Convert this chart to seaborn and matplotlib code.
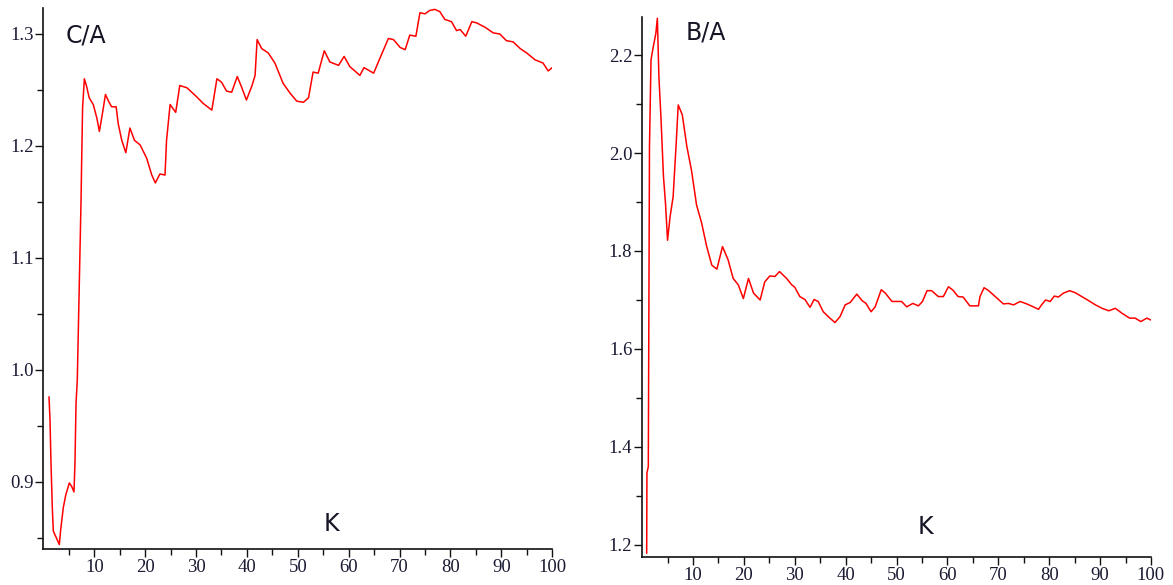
import matplotlib
matplotlib.use("Agg")
import matplotlib.pyplot as plt
from matplotlib.ticker import FixedLocator, FormatStrFormatter
import pandas as pd
import seaborn as sns

# C/A ratio against K
k_ca = [1.10, 1.30, 1.49, 1.75, 1.95, 3.13, 3.39, 3.91, 4.38, 5.09,
        5.55, 6.01, 6.21, 6.41, 6.66, 7.40, 7.50, 7.70, 8.05, 8.5,
        9.0, 9.8, 10.5, 11.0, 11.6, 12.2, 12.8, 13.4, 14.3, 14.7,
        15.4, 16.2, 17.0, 17.9, 19.0, 20.3, 21.3, 22.0, 22.9, 23.9,
        24.2, 24.9, 26.0, 26.8, 28.2, 30.1, 31.4, 33.1, 34.1, 35.0,
        36.0, 37.0, 38.1, 39.0, 39.9, 41.0, 41.6, 42.0, 42.9, 44.2,
        45.5, 47.1, 48.5, 49.8, 51.1, 52.1, 53.0, 54.0, 55.2, 56.3,
        58.0, 59.1, 60.2, 62.2, 63.0, 64.9, 66.1, 67.8, 68.8, 70.1,
        71.1, 72.0, 73.2, 74.0, 75.0, 75.9, 76.9, 77.9, 78.9, 80.2,
        81.2, 81.9, 83.0, 84.2, 85.1, 86.8, 88.4, 89.7, 91.0, 92.3,
        93.7, 95.0, 96.6, 98.2, 99.2, 100.0]
ca = [0.976, 0.955, 0.917, 0.877, 0.856, 0.844, 0.857, 0.877, 0.888, 0.899,
      0.896, 0.891, 0.918, 0.970, 0.991, 1.152, 1.181, 1.234, 1.260, 1.253,
      1.243, 1.237, 1.225, 1.213, 1.229, 1.246, 1.240, 1.235, 1.235, 1.220,
      1.205, 1.194, 1.216, 1.205, 1.201, 1.189, 1.174, 1.167, 1.175, 1.174,
      1.205, 1.237, 1.230, 1.254, 1.252, 1.244, 1.238, 1.232, 1.260, 1.257,
      1.249, 1.248, 1.262, 1.252, 1.241, 1.254, 1.263, 1.295, 1.287, 1.283,
      1.274, 1.256, 1.247, 1.240, 1.239, 1.243, 1.266, 1.265, 1.285, 1.275,
      1.272, 1.280, 1.271, 1.263, 1.270, 1.265, 1.278, 1.296, 1.295, 1.288,
      1.286, 1.299, 1.298, 1.319, 1.318, 1.321, 1.322, 1.320, 1.313, 1.311,
      1.303, 1.304, 1.298, 1.311, 1.310, 1.306, 1.301, 1.300, 1.294, 1.293,
      1.287, 1.283, 1.277, 1.274, 1.267, 1.270]

# B/A ratio against K
k_ba = [0.90, 0.95, 1.22, 1.45, 1.75, 2.2, 2.7, 3.0, 3.3, 3.7,
        4.2, 4.6, 5.0, 5.5, 6.1, 6.7, 7.1, 7.9, 8.8, 9.7,
        10.7, 11.7, 12.7, 13.7, 14.7, 15.8, 16.9, 17.9, 18.9, 19.9,
        20.9, 21.9, 23.2, 24.1, 25.1, 26.1, 27.0, 28.4, 29.4, 30.0,
        31.0, 32.0, 33.0, 33.8, 34.6, 35.6, 36.9, 37.9, 38.9, 39.9,
        40.9, 42.2, 43.2, 44.0, 45.0, 45.8, 47.0, 47.8, 49.1, 51.0,
        52.0, 53.2, 54.3, 55.1, 56.0, 56.9, 58.2, 59.2, 60.2, 61.1,
        62.1, 63.1, 64.4, 66.1, 66.4, 67.2, 68.0, 69.4, 71.0, 72.0,
        73.0, 74.3, 75.6, 76.9, 77.9, 78.5, 79.3, 80.2, 81.0, 81.8,
        82.8, 84.0, 85.1, 86.4, 87.7, 89.1, 90.4, 91.7, 93.0, 94.3,
        95.8, 96.9, 98.0, 99.2, 100.0]
ba = [1.183, 1.347, 1.360, 2.013, 2.190, 2.217, 2.244, 2.275, 2.156, 2.074,
      1.952, 1.897, 1.822, 1.870, 1.911, 2.020, 2.098, 2.078, 2.013, 1.965,
      1.894, 1.857, 1.809, 1.771, 1.763, 1.809, 1.782, 1.744, 1.731, 1.703,
      1.744, 1.714, 1.700, 1.737, 1.749, 1.748, 1.758, 1.744, 1.731, 1.726,
      1.707, 1.701, 1.685, 1.701, 1.697, 1.676, 1.663, 1.654, 1.666, 1.690,
      1.695, 1.712, 1.699, 1.693, 1.676, 1.686, 1.721, 1.714, 1.697, 1.697,
      1.686, 1.693, 1.688, 1.697, 1.719, 1.719, 1.707, 1.707, 1.727, 1.720,
      1.707, 1.706, 1.688, 1.688, 1.707, 1.725, 1.720, 1.707, 1.692, 1.693,
      1.690, 1.697, 1.692, 1.686, 1.681, 1.690, 1.700, 1.697, 1.708, 1.706,
      1.714, 1.719, 1.715, 1.707, 1.699, 1.690, 1.683, 1.678, 1.683, 1.673,
      1.663, 1.663, 1.656, 1.663, 1.659]

x_major = [10, 20, 30, 40, 50, 60, 70, 80, 90, 100]
x_minor = [5, 15, 25, 35, 45, 55, 65, 75, 85, 95]

sns.set_style("ticks")
plt.rcParams["font.family"] = ["DejaVu Sans"]

fig = plt.figure(figsize=(11.73, 5.85), dpi=100)
ax1 = fig.add_axes([0.0370, 0.0615, 0.4338, 0.9244])
ax2 = fig.add_axes([0.5474, 0.0479, 0.4338, 0.9234])

df1 = pd.DataFrame({"K": k_ca, "ratio": ca})
df2 = pd.DataFrame({"K": k_ba, "ratio": ba})

line_kw = dict(color="#ff0000", linewidth=1.1, sort=False, estimator=None)
sns.lineplot(data=df1, x="K", y="ratio", ax=ax1, **line_kw)
sns.lineplot(data=df2, x="K", y="ratio", ax=ax2, **line_kw)

ax1.set_xlim(0, 100)
ax1.set_ylim(0.840, 1.323)
ax2.set_xlim(0, 100)
ax2.set_ylim(1.1755, 2.278)

ax1.yaxis.set_major_locator(FixedLocator([0.9, 1.0, 1.1, 1.2, 1.3]))
ax1.yaxis.set_minor_locator(FixedLocator([0.85, 0.95, 1.05, 1.15, 1.25]))
ax2.yaxis.set_major_locator(FixedLocator([1.2, 1.4, 1.6, 1.8, 2.0, 2.2]))
ax2.yaxis.set_minor_locator(FixedLocator([1.3, 1.5, 1.7, 1.9, 2.1]))

label_color = "#1a1a33"
for ax in (ax1, ax2):
    ax.xaxis.set_major_locator(FixedLocator(x_major))
    ax.xaxis.set_minor_locator(FixedLocator(x_minor))
    ax.yaxis.set_major_formatter(FormatStrFormatter("%.1f"))
    sns.despine(ax=ax)
    for side in ("left", "bottom"):
        ax.spines[side].set_linewidth(1.2)
        ax.spines[side].set_color("#111111")
    ax.tick_params(which="major", direction="out", length=5.5, width=1.0,
                   color="#111111", labelsize=13.5, labelcolor=label_color, pad=1.5)
    ax.tick_params(which="minor", direction="out", length=4, width=1.0,
                   color="#111111")
    for lab in ax.get_xticklabels() + ax.get_yticklabels():
        lab.set_fontfamily("Liberation Serif")
    ax.set_xlabel("")
    ax.set_ylabel("")
    ax.grid(False)

title_kw = dict(fontsize=17, color="#151525", ha="center", va="center")
fig.text(0.0733, 0.9385, "C/A", **title_kw)
fig.text(0.6019, 0.9436, "B/A", **title_kw)
fig.text(0.2822, 0.1043, "K", **title_kw)
fig.text(0.7886, 0.0991, "K", **title_kw)

fig.savefig("out.png", dpi=100, facecolor="white")
